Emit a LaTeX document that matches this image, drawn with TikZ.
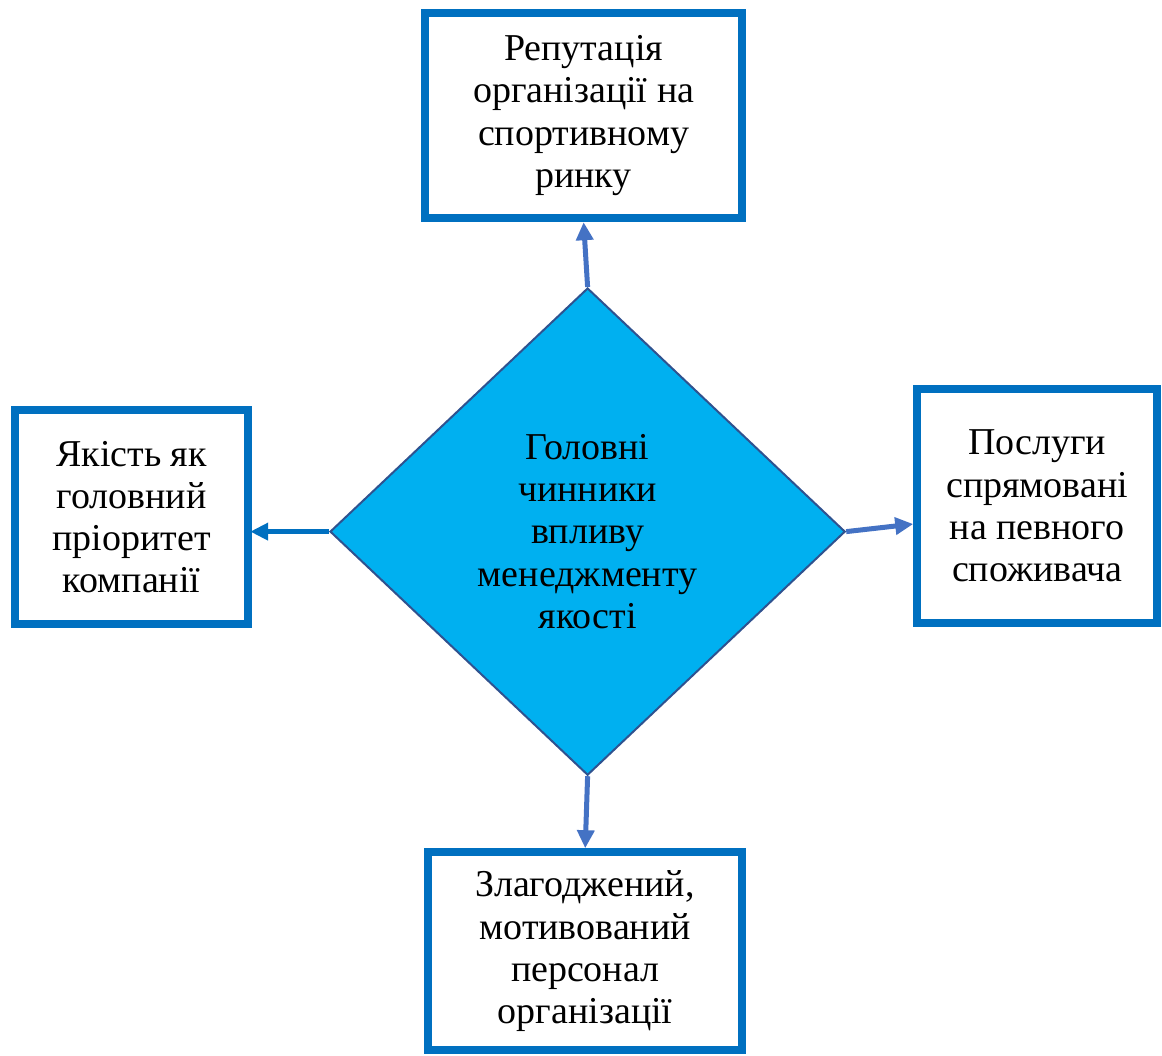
\documentclass[tikz,border=0pt]{standalone}
\usepackage{fontspec}
\setmainfont{Liberation Serif}
\usetikzlibrary{arrows.meta,shapes.geometric}
\definecolor{BoxBlue}{HTML}{0070C0}
\definecolor{ArrowBlue}{HTML}{4472C4}
\definecolor{HubCyan}{HTML}{00B0F0}
\definecolor{HubEdge}{HTML}{2F528F}
\begin{document}
\begin{tikzpicture}[font=\fontsize{27}{30}\selectfont,
  factor/.style={draw=BoxBlue,line width=0.2cm,fill=white,align=center,inner sep=0pt},
  hub/.style={diamond,draw=HubEdge,line width=0.05cm,fill=HubCyan,align=center,inner sep=0pt,minimum width=12.88cm,minimum height=12.18cm},
  link/.style={ArrowBlue,line width=0.125cm,-{Triangle[length=0.45cm,width=0.42cm]}}]
\useasboundingbox (0,0) rectangle (29.05,-26.375);
\node[hub] (hub) at (14.69,-13.29){Головні\\чинники\\впливу\\менеджменту\\якості};
\node[factor,minimum width=7.93cm,minimum height=5.13cm] (reput) at (14.59,-2.89){Репутація\\організації на\\спортивному\\ринку};
\node[factor,minimum width=5.83cm,minimum height=5.35cm] (qual) at (3.29,-12.93){Якість як\\головний\\пріоритет\\компанії};
\node[factor,minimum width=6.0cm,minimum height=5.85cm] (serv) at (25.93,-12.65){Послуги\\спрямовані\\на певного\\споживача};
\node[factor,minimum width=7.85cm,minimum height=4.95cm] (staff) at (14.63,-23.78){Злагоджений,\\мотивований\\персонал\\організації};
\draw[link] (hub.north) -- (reput.south);
\draw[link,BoxBlue] (hub.west) -- ([xshift=-0.05cm]hub.west -| qual.east);
\draw[link] (hub.east) -- ([yshift=-0.45cm]serv.west);
\draw[link] (hub.south) -- (staff.north);
\end{tikzpicture}
\end{document}
